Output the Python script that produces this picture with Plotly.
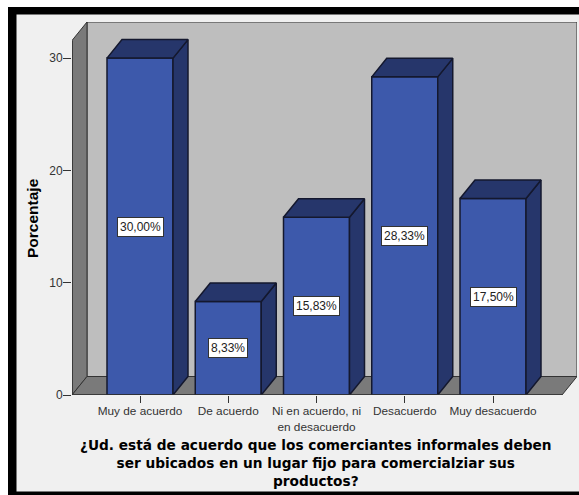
import plotly.graph_objects as go

categories = ["Muy de acuerdo", "De acuerdo", "Ni en acuerdo, ni<br>en desacuerdo", "Desacuerdo", "Muy desacuerdo"]
values = [30.00, 8.33, 15.83, 28.33, 17.50]
labels = ["30,00%", "8,33%", "15,83%", "28,33%", "17,50%"]
y_ticks = [0, 10, 20, 30]
x_title = "¿Ud. está de acuerdo que los comerciantes informales deben<br>ser ubicados en un lugar fijo para comercialziar sus<br>productos?"
y_title = "Porcentaje"

W, H = 579, 495
L, R, T, B = 72, 577, 22, 395
PX_X = 88.25
PX_Y = 11.23
x0_range = -(140 - L) / PX_X
x1_range = (R - 140) / PX_X
y1_range = (B - T) / PX_Y
DX = 15 / PX_X
DY = 18.5 / PX_Y
BW = 66 / PX_X
xmin, xmax = x0_range, x1_range
ytop = y1_range

FRONT = "#3d59ab"
DARK = "#26366b"
EDGE = "#14182e"
WALL = "#bebebe"
SIDE = "#7a7a7a"
LINE = "#333333"

fig = go.Figure()

def path(xs, ys):
    return "M" + "L".join(f"{x},{y}" for x, y in zip(xs, ys)) + "Z"

def poly(xs, ys, fill, line=LINE, w=1):
    fig.add_trace(go.Scatter(x=xs, y=ys, mode="lines", fill="toself", fillcolor=fill,
                             line=dict(color=line, width=w), hoverinfo="skip", showlegend=False))

# bars: side and top faces, then the front face
fig.add_trace(go.Bar(x=list(range(len(values))), y=values, width=BW,
                     marker=dict(color=FRONT, line=dict(color=EDGE, width=1.5)),
                     hoverinfo="skip", showlegend=False))
for i, v in enumerate(values):
    a, b = i - BW / 2, i + BW / 2
    poly([b, b + DX, b + DX, b, b], [0, DY, v + DY, v, 0], DARK, EDGE, 1.5)
    poly([a, a + DX, b + DX, b, a], [v, v + DY, v + DY, v, v], DARK, EDGE, 1.5)

# front axis lines
fig.add_trace(go.Scatter(x=[xmin, xmin, xmax - DX], y=[ytop - DY, 0, 0], mode="lines",
                         line=dict(color=LINE, width=1.5), hoverinfo="skip", showlegend=False))

for i, (v, t) in enumerate(zip(values, labels)):
    fig.add_annotation(x=i, y=v / 2, text=t, showarrow=False, bgcolor="white",
                       bordercolor="#333333", borderwidth=1, borderpad=2,
                       font=dict(family="Liberation Sans", size=12, color="#222222"))

# frame, drawn in paper fractions
pw, ph = R - L, B - T
def px(x): return (x - L) / pw
def py(y): return (B - y) / ph
frame = [(0, 0, W, H, "white"), (8, 7, W, H, "black"), (16.5, 14.5, W, 491.5, "#f0f0f0")]
shapes = [dict(type="rect", xref="paper", yref="paper", x0=px(a), x1=px(c), y0=py(b), y1=py(d),
               fillcolor=col, line=dict(width=0), layer="below") for a, b, c, d, col in frame]

# back wall, left wall, floor
for xs, ys, col in [
    ([xmin + DX, xmax, xmax, xmin + DX], [DY, DY, ytop, ytop], WALL),
    ([xmin, xmin + DX, xmin + DX, xmin], [0, DY, ytop, ytop - DY], SIDE),
    ([xmin, xmin + DX, xmax, xmax - DX], [0, DY, DY, 0], SIDE),
]:
    shapes.append(dict(type="path", xref="x", yref="y", path=path(xs, ys), fillcolor=col,
                       line=dict(color=LINE, width=1), layer="below"))

fig.add_annotation(xref="paper", yref="paper", x=px(316), y=py(463), xanchor="center", yanchor="middle",
                   text=x_title, showarrow=False,
                   font=dict(family="DejaVu Sans", size=13.7, color="#000000", weight="bold"),
                   align="center")
fig.add_annotation(xref="paper", yref="paper", x=px(32), y=py(218), xanchor="center", yanchor="middle",
                   text=y_title, showarrow=False, textangle=-90,
                   font=dict(family="Liberation Sans", size=15.5, color="#000000", weight="bold"))

fig.update_layout(
    width=W, height=H, autosize=False,
    margin=dict(l=L, r=W - R, t=T, b=H - B, pad=0),
    paper_bgcolor="#f0f0f0", plot_bgcolor="rgba(0,0,0,0)",
    shapes=shapes, showlegend=False, barmode="overlay",
    xaxis=dict(range=[x0_range, x1_range], tickmode="array", tickvals=list(range(len(categories))),
               ticktext=categories, ticks="outside", ticklen=7, tickcolor=LINE, tickwidth=1,
               showgrid=False, zeroline=False, showline=False, ticklabelstandoff=-2,
               tickfont=dict(family="Liberation Sans", size=11.8, color="#333333")),
    yaxis=dict(range=[0, y1_range], tickmode="array", tickvals=y_ticks, ticks="outside", ticklen=8,
               tickcolor=LINE, tickwidth=1, showgrid=False, zeroline=False, showline=False,
               ticklabelstandoff=-2,
               tickfont=dict(family="Liberation Sans", size=12, color="#333333")),
)
fig.write_html("out.html", config={"displayModeBar": False},
               post_script="document.body.style.margin='0';document.body.style.overflow='hidden';")
